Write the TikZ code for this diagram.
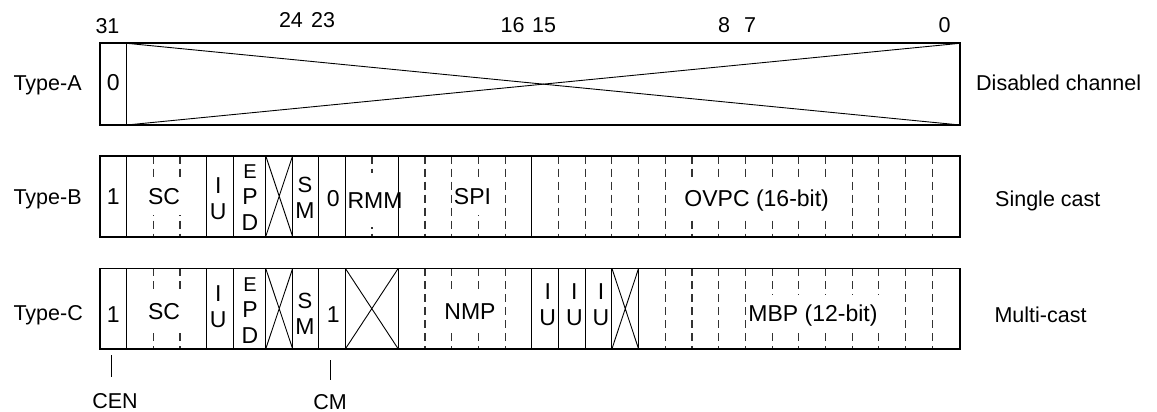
\documentclass[tikz,border=0pt]{standalone}
\usepackage{fontspec}
\setmainfont{Liberation Sans}
\begin{document}
\begin{tikzpicture}[x=1pt,y=-1pt,
  frame/.style={line width=1.6pt},
  divider/.style={line width=0.9pt},
  dashdiv/.style={line width=1.1pt, dash pattern=on 8pt off 5pt, black!80},
  lbl/.style={font=\fontsize{21.5}{24}\selectfont, inner sep=0pt, text height=15.4pt, text depth=0pt},
  fld/.style={font=\fontsize{23}{26}\selectfont, fill=white, inner xsep=2pt, inner ysep=10pt, text height=16.5pt, text depth=0pt},
  cell/.style={font=\fontsize{23}{26}\selectfont, inner sep=0pt, align=center},
]
\useasboundingbox (0,0) rectangle (1157,412);
\def\L#1{398.3+(20-#1)*26.7}

% ---------- bit numbers ----------
\node[lbl] (n31) at (107.5,26) {31};
\node[lbl] (n24) at (291,20) {24};
\node[lbl] (n23) at (323,20) {23};
\node[lbl] (n16) at (512.5,25) {16};
\node[lbl] (n15) at (544,25) {15};
\node[lbl] (n8)  at (724,25) {8};
\node[lbl] (n7)  at (750,25) {7};
\node[lbl] (n0)  at (944.7,25) {0};

% ---------- side labels ----------
\node[lbl,anchor=west] (ta) at (13.3,83) {Type-A};
\node[lbl,anchor=west] (tb) at (13.3,196.7) {Type-B};
\node[lbl,anchor=west] (tc) at (13.3,313) {Type-C};
\node[lbl,anchor=west] (da) at (976,83) {Disabled channel};
\node[lbl,anchor=west] (sb) at (995,198.3) {Single cast};
\node[lbl,anchor=west] (mc) at (994.3,315) {Multi-cast};

% ---------- Type-A ----------
\draw[frame] (100,43.3) rectangle (960,125);
\draw[divider] (126.7,43.3) -- (126.7,125);
\draw[divider] (126.7,43.3) -- (960,125);
\draw[divider] (126.7,125) -- (960,43.3);
\node[cell] (a31) at (113.3,83) {0};

% ---------- Type-B ----------
\def\T{155.7}\def\B{236.7}
\foreach \x in {153.3,180,372} \draw[dashdiv] (\x,\T) -- (\x,\B);
\foreach \k in {19,18,17,16,14,13,12,11,10,9,8,7,6,5,4,3,2,1,0}
  \draw[dashdiv] ({\L{\k}},\T) -- ({\L{\k}},\B);
\node[cell] (b31) at (113.3,196.7) {1};
\node[fld] (bsc) at (164,196.7) {SC};
\node[cell] (biu) at (218.3,199) {\fontsize{23}{24}\selectfont I\\U};
\node[cell] (bepd) at (250,197.5) {\fontsize{20}{22.5}\selectfont E\\P\\D};
\node[cell] (bsm) at (305,198) {\fontsize{22}{27}\selectfont S\\M};
\node[cell] (b23) at (333.3,198.5) {0};
\node[fld,inner ysep=19pt] (brmm) at (375,200) {RMM};
\node[fld] (bspi) at (472.5,196.7) {SPI};
\node[fld] (bovpc) at (756.7,198) {OVPC (16-bit)};
\foreach \x in {126.7,206.7,233.3,265.7,292.7,318.7,345.3,398.3,531.8}
  \draw[divider] (\x,\T) -- (\x,\B);
\draw[divider] (265.7,\T) -- (292.7,\B) (265.7,\B) -- (292.7,\T);
\draw[frame] (100,\T) rectangle (960,\B);

% ---------- Type-C ----------
\def\T{268.3}\def\B{349}
\foreach \x in {153.3,180} \draw[dashdiv] (\x,\T) -- (\x,\B);
\foreach \k in {19,18,17,16,10,9,8,7,6,5,4,3,2,1,0}
  \draw[dashdiv] ({\L{\k}},\T) -- ({\L{\k}},\B);
\node[cell] (c31) at (113.3,315) {1};
\node[fld] (csc) at (164,311) {SC};
\node[cell] (ciu) at (218.3,306.5) {\fontsize{23}{26}\selectfont I\\U};
\node[cell] (cepd) at (250,310.8) {\fontsize{20}{22}\selectfont E\\P\\D};
\node[cell] (csm) at (305,313.5) {\fontsize{22}{29}\selectfont S\\M};
\node[cell] (c23) at (333.3,315) {1};
\node[fld] (cnmp) at (470,311.7) {NMP};
\node[cell] (ciu15) at (547.7,305) {\fontsize{23}{26}\selectfont I\\U};
\node[cell] (ciu14) at (574.3,305) {\fontsize{23}{26}\selectfont I\\U};
\node[cell] (ciu13) at (601,305) {\fontsize{23}{26}\selectfont I\\U};
\node[fld] (cmbp) at (813,313) {MBP (12-bit)};
\foreach \x in {126.7,206.7,233.3,265.7,292.7,318.7,345.3,398.3,531.8,558.5,585.2,611.9,638.6}
  \draw[divider] (\x,\T) -- (\x,\B);
\draw[divider] (265.7,\T) -- (292.7,\B) (265.7,\B) -- (292.7,\T);
\draw[divider] (345.3,\T) -- (398.3,\B) (345.3,\B) -- (398.3,\T);
\draw[divider] (611.9,\T) -- (638.6,\B) (611.9,\B) -- (638.6,\T);
\draw[frame] (100,\T) rectangle (960,\B);

% ---------- CEN / CM markers ----------
\node[lbl] (cen) at (115,401) {CEN};
\node[lbl] (cm) at (330,401.5) {CM};
\coordinate (cenTop) at (111.7,355);
\coordinate (cenBot) at (111.7,376.7);
\coordinate (cmTop) at (330,360);
\coordinate (cmBot) at (330,380);
\draw[divider] (cenTop) -- (cenBot);
\draw[divider] (cmTop) -- (cmBot);
\end{tikzpicture}
\end{document}
